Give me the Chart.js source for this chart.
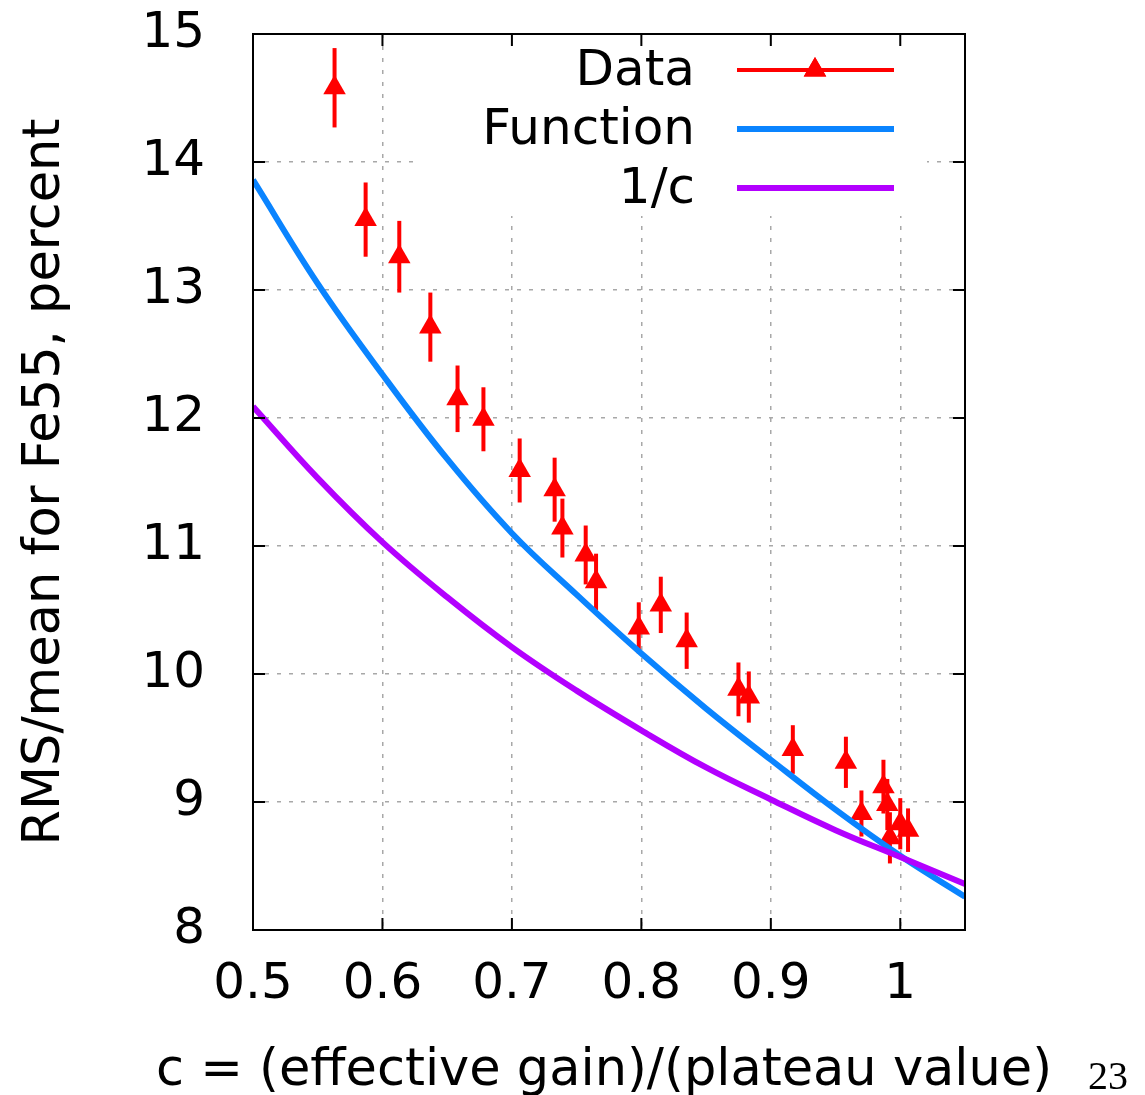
<!DOCTYPE html>
<html>
<head>
<meta charset="utf-8">
<script src="https://cdn.jsdelivr.net/npm/chart.js@4/dist/chart.umd.min.js"></script>
<style>
  body { margin: 0; background: #fff; }
  #wrap { width: 1145px; height: 1095px; }
</style>
</head>
<body>
<div id="wrap"><canvas id="chart" width="1145" height="1095"></canvas></div>
<script>
// measured points (c, RMS/mean, error)
const cData   = [0.563, 0.587, 0.613, 0.637, 0.658, 0.678, 0.706, 0.733, 0.739, 0.757, 0.765, 0.798, 0.815, 0.835, 0.875, 0.883, 0.917, 0.958, 0.970, 0.987, 0.990, 0.992, 1.000, 1.006];
const rmsData = [14.58, 13.55, 13.26, 12.71, 12.15, 11.99, 11.59, 11.44, 11.14, 10.93, 10.72, 10.36, 10.54, 10.26, 9.88, 9.82, 9.41, 9.31, 8.91, 9.12, 8.98, 8.72, 8.83, 8.78];
const errData = [0.31, 0.29, 0.28, 0.27, 0.26, 0.25, 0.25, 0.25, 0.23, 0.23, 0.22, 0.20, 0.22, 0.22, 0.21, 0.20, 0.19, 0.20, 0.18, 0.21, 0.20, 0.20, 0.20, 0.17];

// curves
const curveC    = [0.50, 0.55, 0.60, 0.65, 0.70, 0.75, 0.80, 0.85, 0.90, 0.95, 1.00, 1.05];
const funcVals  = [13.86, 13.05, 12.34, 11.68, 11.10, 10.62, 10.16, 9.73, 9.33, 8.94, 8.58, 8.26];
const invCVals  = [12.09, 11.53, 11.03, 10.60, 10.21, 9.87, 9.56, 9.27, 9.02, 8.78, 8.57, 8.36];

const xTicks = [0.5, 0.6, 0.7, 0.8, 0.9, 1.0];
const yTicks = [8, 9, 10, 11, 12, 13, 14, 15];

const xTitle = 'c = (effective gain)/(plateau value)';

const FONT = "'DejaVu Sans', sans-serif";

const toXY = (xs, ys) => xs.map((x, i) => ({ x: x, y: ys[i] }));

const extras = {
    id: 'extras',
    beforeDatasetsDraw(chart) {
        const ctx = chart.ctx;
        const xs = chart.scales.x, ys = chart.scales.y;
        // key box covers the grid
        ctx.save();
        ctx.fillStyle = '#fff';
        ctx.fillRect(415, chart.chartArea.top + 1, 512, 181);
        // error bars
        ctx.strokeStyle = '#ff0000';
        ctx.lineWidth = 4;
        cData.forEach((c, i) => {
            const px = xs.getPixelForValue(c);
            ctx.beginPath();
            ctx.moveTo(px, ys.getPixelForValue(rmsData[i] + errData[i]));
            ctx.lineTo(px, ys.getPixelForValue(rmsData[i] - errData[i]));
            ctx.stroke();
        });
        ctx.restore();
    },
    afterDatasetsDraw(chart) {
        const ctx = chart.ctx;
        const a = chart.chartArea;
        const xs = chart.scales.x, ys = chart.scales.y;
        ctx.save();
        // frame and inward ticks
        ctx.strokeStyle = '#000';
        ctx.lineWidth = 2;
        ctx.strokeRect(a.left, a.top, a.right - a.left, a.bottom - a.top);
        ctx.beginPath();
        yTicks.forEach(v => {
            const py = ys.getPixelForValue(v);
            ctx.moveTo(a.left, py); ctx.lineTo(a.left + 12, py);
            ctx.moveTo(a.right, py); ctx.lineTo(a.right - 12, py);
        });
        xTicks.forEach(v => {
            const px = xs.getPixelForValue(v);
            ctx.moveTo(px, a.bottom); ctx.lineTo(px, a.bottom - 12);
            ctx.moveTo(px, a.top); ctx.lineTo(px, a.top + 12);
        });
        ctx.stroke();

        // key
        const rows = [70, 129, 188];
        ctx.font = '50px ' + FONT;
        ctx.textAlign = 'right';
        ctx.textBaseline = 'middle';
        chart.data.datasets.forEach((ds, i) => {
            const y = rows[i];
            ctx.fillStyle = '#000';
            ctx.fillText(ds.label, 695, y + 2);
            ctx.strokeStyle = ds.legendColor;
            ctx.lineWidth = ds.legendWidth;
            ctx.beginPath();
            ctx.moveTo(737, y);
            ctx.lineTo(894, y);
            ctx.stroke();
            if (ds.pointStyle === 'triangle') {
                ctx.fillStyle = ds.backgroundColor;
                Chart.helpers.drawPoint(ctx, { pointStyle: 'triangle', radius: ds.pointRadius, borderWidth: 0 }, 815, y);
                ctx.fill();
            }
        });

        // x axis title (drawn here so it is not squeezed to the plot width)
        ctx.font = '51px ' + FONT;
        ctx.textAlign = 'center';
        ctx.textBaseline = 'middle';
        ctx.fillStyle = '#000';
        ctx.fillText(xTitle, 604, 1072);

        // page number
        ctx.font = "40px 'Liberation Serif', serif";
        ctx.textAlign = 'right';
        ctx.textBaseline = 'alphabetic';
        ctx.fillText('23', 1128, 1089);
        ctx.restore();
    }
};

const ctx = document.getElementById('chart').getContext('2d');

const chart = new Chart(ctx, {
    type: 'scatter',
    data: {
        datasets: [
            {
                label: 'Data',
                data: toXY(cData, rmsData),
                showLine: false,
                pointStyle: 'triangle',
                pointRadius: 13,
                pointBorderWidth: 0,
                backgroundColor: '#ff0000',
                borderColor: '#ff0000',
                legendColor: '#ff0000',
                legendWidth: 4,
                order: 3
            },
            {
                label: 'Function',
                data: toXY(curveC, funcVals),
                showLine: true,
                pointRadius: 0,
                borderColor: '#0a84ff',
                borderWidth: 6,
                tension: 0.4,
                legendColor: '#0a84ff',
                legendWidth: 6,
                order: 2
            },
            {
                label: '1/c',
                data: toXY(curveC, invCVals),
                showLine: true,
                pointRadius: 0,
                borderColor: '#b300ff',
                borderWidth: 6,
                tension: 0.4,
                legendColor: '#b300ff',
                legendWidth: 6,
                order: 1
            }
        ]
    },
    options: {
        responsive: false,
        animation: false,
        layout: { padding: { top: 34, right: 180, left: 0, bottom: 0 } },
        plugins: {
            legend: { display: false },
            tooltip: { enabled: false }
        },
        scales: {
            x: {
                type: 'linear',
                min: 0.5,
                max: 1.05,
                afterBuildTicks: axis => { axis.ticks = xTicks.map(v => ({ value: v })); },
                afterFit: axis => { axis.height = 165; axis.paddingLeft = 0; axis.paddingRight = 0; },
                ticks: {
                    color: '#000',
                    font: { family: FONT, size: 50 },
                    padding: 25,
                    maxRotation: 0,
                    callback: v => String(v)
                },
                grid: { color: '#a8a8a8', lineWidth: 1.5, drawTicks: false },
                border: { display: false, dash: [4, 8] }
            },
            y: {
                type: 'linear',
                min: 8,
                max: 15,
                afterBuildTicks: axis => { axis.ticks = yTicks.map(v => ({ value: v })); },
                afterFit: axis => { axis.width = 253; axis.paddingTop = 0; axis.paddingBottom = 0; },
                ticks: {
                    color: '#000',
                    font: { family: FONT, size: 50 },
                    padding: 48
                },
                grid: { color: '#a8a8a8', lineWidth: 1.5, drawTicks: false },
                border: { display: false, dash: [4, 8] },
                title: {
                    display: true,
                    text: 'RMS/mean for Fe55, percent',
                    color: '#000',
                    font: { family: FONT, size: 51 },
                    padding: { top: 15, bottom: 0 }
                }
            }
        }
    },
    plugins: [extras]
});
</script>
</body>
</html>
